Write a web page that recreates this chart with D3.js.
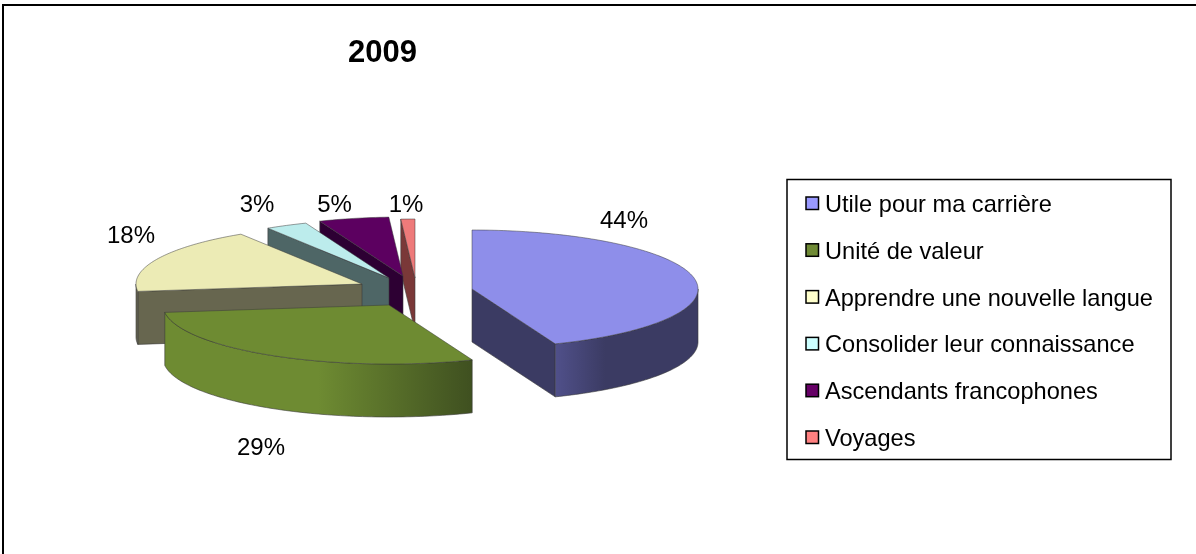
<!DOCTYPE html>
<html><head><meta charset="utf-8">
<script src="https://cdnjs.cloudflare.com/ajax/libs/d3/7.8.5/d3.min.js"></script>
<style>html,body{margin:0;padding:0;background:#fff}svg{display:block;filter:blur(0.45px)}text{font-family:"Liberation Sans",Arial,sans-serif;fill:#000}</style>
</head><body><script>
const categories=["Utile pour ma carrière","Unité de valeur","Apprendre une nouvelle langue","Consolider leur connaissance","Ascendants francophones","Voyages"];
const values=[44,29,18,3,5,1];
const legendColors=["#9999ff","#6f8a35","#ffffcc","#ccffff","#660066","#ff8080"];
const topColors=["#8e8eea","#6e8b32","#ecebb5","#bcecec","#5c0060","#ee7a7a"];
const wallColors=["#3b3b63","#6e8b32","#67664f","#4e6666","#2d0033","#7a3838"];
const rimEndColors=["#3b3b63","#3f5020","#67664f","#4e6666","#2d0033","#7a3838"];
const rimStartColors=["#50508a","#6e8b32","#67664f","#4e6666","#2d0033","#7a3838"];
const title="2009";
const W=1196,H=554;
const RX=226,RY=59,DEPTH=53;
const centers=[[472,289],[389,305],[362,284],[389,278],[403,276],[415,278]];
const labelPos=[[624,228],[261,455],[131,243],[257,212],[334.5,212],[406,212]];
const drawOrder=[5,4,3,2,0,1];

const svg=d3.select("body").append("svg").attr("width",W).attr("height",H);
const defs=svg.append("defs");
svg.append("path").attr("d",d3.line()([[3,H],[3,5],[W,5]])).attr("fill","none").attr("stroke","#000").attr("stroke-width",2);
svg.append("text").attr("x",382.5).attr("y",62).attr("text-anchor","middle").attr("font-size",31).attr("font-weight","bold").text(title);

const pie=d3.pie().sort(null).value(d=>d)(values);
const px=(c,a)=>[c[0]+RX*Math.sin(a),c[1]-RY*Math.cos(a)];
const arcPts=(c,a0,a1,dy=0)=>{const n=Math.max(2,Math.ceil((a1-a0)/0.02));
  return d3.range(n+1).map(i=>{const a=a0+(a1-a0)*i/n,p=px(c,a);return [p[0],p[1]+dy];});};
const line=d3.line();
const HALF=Math.PI/2;
const edge="#3a3a3a";

drawOrder.forEach(i=>{
  const s=pie[i],c=centers[i],a0=s.startAngle,a1=s.endAngle;
  const g=svg.append("g").attr("class","slice");
  const wall=(a)=>{const p=px(c,a);
    g.append("path").attr("d",line([c,p,[p[0],p[1]+DEPTH],[c[0],c[1]+DEPTH]])+"Z")
     .attr("fill",wallColors[i]).attr("stroke",edge).attr("stroke-width",.6);};
  if(Math.sin(a0)<-1e-6) wall(a0);
  if(Math.sin(a1)>1e-6) wall(a1);
  const r0=Math.max(a0,HALF),r1=Math.min(a1,3*HALF);
  if(r1>r0){
    const pa=arcPts(c,r0,r1),pb=arcPts(c,r0,r1,DEPTH).reverse();
    const id="rim"+i;
    const gr=defs.append("linearGradient").attr("id",id).attr("gradientUnits","userSpaceOnUse")
      .attr("x1",d3.min(pa,d=>d[0])).attr("x2",d3.max(pa,d=>d[0])).attr("y1",0).attr("y2",0);
    const mid=i===0?.35:.5;
    const midColor=i===0?rimEndColors[i]:rimStartColors[i];
    gr.append("stop").attr("offset",0).attr("stop-color",rimStartColors[i]);
    gr.append("stop").attr("offset",mid).attr("stop-color",midColor);
    gr.append("stop").attr("offset",1).attr("stop-color",rimEndColors[i]);
    g.append("path").attr("d",line(pa.concat(pb))+"Z").attr("fill",`url(#${id})`).attr("stroke",edge).attr("stroke-width",.6);
  }
  g.append("path").attr("d",line([c].concat(arcPts(c,a0,a1)))+"Z").attr("fill",topColors[i]).attr("stroke",edge).attr("stroke-width",.5);
});

values.forEach((v,i)=>{
  svg.append("text").attr("x",labelPos[i][0]).attr("y",labelPos[i][1]).attr("text-anchor","middle").attr("font-size",24).text(v+"%");
});

const lg=svg.append("g");
lg.append("rect").attr("x",787).attr("y",179.5).attr("width",384).attr("height",280).attr("fill","#fff").attr("stroke","#000").attr("stroke-width",1.5);
const rowY=d3.scalePoint().domain(d3.range(categories.length)).range([197,431]);
categories.forEach((t,i)=>{
  lg.append("rect").attr("x",806).attr("y",rowY(i)).attr("width",12.5).attr("height",12.5).attr("fill",legendColors[i]).attr("stroke","#000").attr("stroke-width",1.5);
  lg.append("text").attr("x",825).attr("y",rowY(i)+15).attr("font-size",23.6).text(t);
});
</script></body></html>
